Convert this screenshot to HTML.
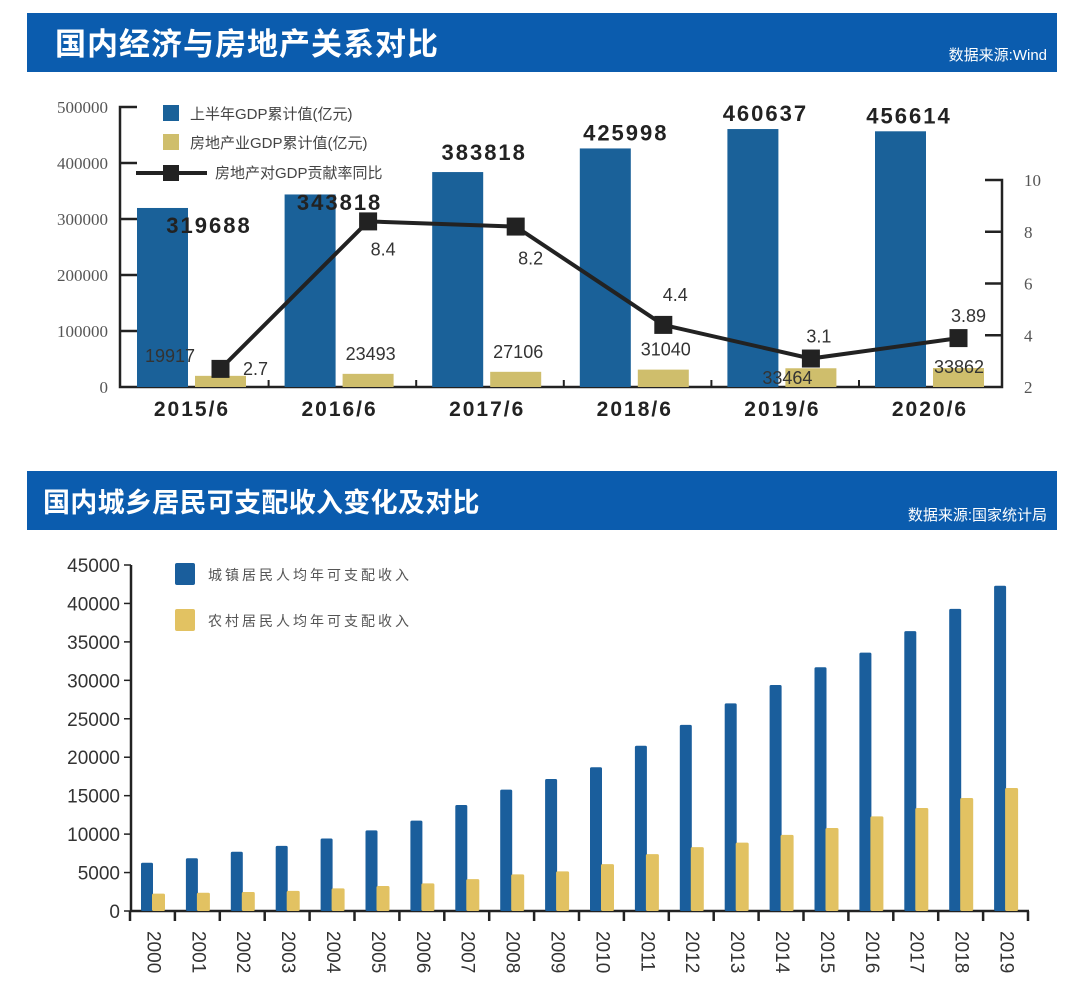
<!DOCTYPE html>
<html><head><meta charset="utf-8"><style>
body{margin:0;background:#fff;width:1080px;height:994px;overflow:hidden}
svg{display:block}
text{font-family:"Liberation Sans","Noto Sans CJK SC",sans-serif}
.serif{font-family:"Liberation Serif","Noto Serif CJK SC",serif}
</style></head><body>
<svg id="chart" width="1080" height="994" viewBox="0 0 1080 994" xmlns="http://www.w3.org/2000/svg">
<g>
<rect x="27" y="13" width="1030" height="59" fill="#0b5cae"/>
<text x="55" y="55" font-size="31" font-weight="bold" fill="#fff" letter-spacing="1">国内经济与房地产关系对比</text>
<text x="1047" y="60" font-size="15" fill="#fff" text-anchor="end">数据来源:Wind</text>
</g>
<g>
<rect x="27" y="471" width="1030" height="59" fill="#0b5cae"/>
<text x="43" y="512" font-size="27" font-weight="bold" fill="#fff" letter-spacing="0.3">国内城乡居民可支配收入变化及对比</text>
<text x="1047" y="520" font-size="15" fill="#fff" text-anchor="end">数据来源:国家统计局</text>
</g>
<g id="top"></g>
<g id="bot"></g>
</svg>
<script>
const gdpCats=["2015/6","2016/6","2017/6","2018/6","2019/6","2020/6"];
const gdpTotal=[319688,343818,383818,425998,460637,456614];
const gdpRealty=[19917,23493,27106,31040,33464,33862];
const gdpShare=[2.7,8.4,8.2,4.4,3.1,3.89];
const gdpShareLabels=["2.7","8.4","8.2","4.4","3.1","3.89"];
const leftTicks=[0,100000,200000,300000,400000,500000];
const rightTicks=[2,4,6,8,10];
const incYears=["2000","2001","2002","2003","2004","2005","2006","2007","2008","2009","2010","2011","2012","2013","2014","2015","2016","2017","2018","2019"];
const urban=[6280,6860,7703,8472,9422,10493,11759,13786,15781,17175,18700,21500,24200,27000,29400,31700,33600,36400,39300,42300];
const rural=[2253,2366,2476,2622,2936,3255,3587,4140,4761,5153,6100,7400,8300,8900,9900,10800,12300,13400,14700,16000];
const incTicks=[0,5000,10000,15000,20000,25000,30000,35000,40000,45000];

const NS="http://www.w3.org/2000/svg";
function mk(p,tag,a,txt){const e=document.createElementNS(NS,tag);for(const k in a)e.setAttribute(k,a[k]);if(txt!==undefined)e.textContent=txt;p.appendChild(e);return e;}

// ---- top chart
const T=document.getElementById('top');
const yL=v=>387-v/500000*280;
const yR=v=>387-(v-2)/8*207;
const band=147.6, x0=137;
const xB=i=>x0+i*band;
let e;
e=mk(T,'path',{d:"M137 107H120V387H1002V180H985",fill:"none",stroke:"#222","stroke-width":2.5});

leftTicks.forEach(v=>{
 if(v>0&&v<500000){e=mk(T,'line',{x1:120,x2:137,y1:yL(v),y2:yL(v),stroke:"#222","stroke-width":2.5});}
 e=mk(T,'text',{x:108,y:yL(v)+6,"font-size":17,fill:"#555","text-anchor":"end",class:"serif"},String(v));
 
});
rightTicks.forEach(v=>{
 if(v>2&&v<10){e=mk(T,'line',{x1:985,x2:1002,y1:yR(v),y2:yR(v),stroke:"#222","stroke-width":2.5});}
 e=mk(T,'text',{x:1024,y:yR(v)+6,"font-size":17,fill:"#555","text-anchor":"start",class:"serif"},String(v));
 
});
gdpCats.forEach((c,i)=>{
 if(i>0){e=mk(T,'line',{x1:xB(i)-16,x2:xB(i)-16,y1:380,y2:387,stroke:"#222","stroke-width":2});}
 e=mk(T,'rect',{x:xB(i),y:yL(gdpTotal[i]),width:51,height:387-yL(gdpTotal[i]),fill:"#1a6199"});
 
 e=mk(T,'rect',{x:xB(i)+58,y:yL(gdpRealty[i]),width:51,height:387-yL(gdpRealty[i]),fill:"#cfbe6c"});
 
 e=mk(T,'text',{x:xB(i)+55,y:416,"font-size":21,"font-weight":"bold",fill:"#222","text-anchor":"middle","letter-spacing":"2"},c);
 
});
const bigOff=[72,55,52,46,38,34];
gdpCats.forEach((c,i)=>{
 const top=yL(gdpTotal[i]);
 let lx=xB(i)+bigOff[i], ly=(i==0?233:(i==1?210:top-12));
 if(i>=3) ly=top-8;
 e=mk(T,'text',{x:lx,y:ly,"font-size":22,"font-weight":"bold",fill:"#222","text-anchor":"middle","letter-spacing":"2"},String(gdpTotal[i]));
 
 e=mk(T,'text',{x:xB(i)+58+(i==0?-25:(i==5?26:(i==4?2:28))),y:(i==4?384:(i==5?373:yL(gdpRealty[i])-14)),"font-size":18,fill:"#333","text-anchor":"middle"},String(gdpRealty[i]));
 
});
const lx=i=>xB(i)+83.5;
e=mk(T,'polyline',{points:gdpShare.map((v,i)=>lx(i)+","+yR(v)).join(" "),fill:"none",stroke:"#222","stroke-width":4});

const lblOff=[[35,0],[15,28],[15,32],[12,-30],[8,-22],[10,-22]];
gdpShare.forEach((v,i)=>{
 e=mk(T,'rect',{x:lx(i)-9,y:yR(v)-9,width:18,height:18,fill:"#222"});
 
 e=mk(T,'text',{x:lx(i)+lblOff[i][0],y:yR(v)+lblOff[i][1]+6,"font-size":18,fill:"#333","text-anchor":"middle"},gdpShareLabels[i]);
 
});
e=mk(T,'rect',{x:163,y:105,width:16,height:16,fill:"#1a6199"});
e=mk(T,'text',{x:190,y:119,"font-size":15,fill:"#444"},"上半年GDP累计值(亿元)");
e=mk(T,'rect',{x:163,y:134,width:16,height:16,fill:"#cfbe6c"});
e=mk(T,'text',{x:190,y:148,"font-size":15,fill:"#444"},"房地产业GDP累计值(亿元)");
e=mk(T,'line',{x1:136,x2:207,y1:173,y2:173,stroke:"#222","stroke-width":4});
e=mk(T,'rect',{x:163,y:165,width:16,height:16,fill:"#222"});
e=mk(T,'text',{x:215,y:178,"font-size":15,fill:"#444"},"房地产对GDP贡献率同比");

// ---- bottom chart
const B=document.getElementById('bot');
const yI=v=>911-v/45000*346;
const gw=44.9, gx=130;
e=mk(B,'path',{d:"M131 565V911H1029",fill:"none",stroke:"#222","stroke-width":2.5});

incTicks.forEach(v=>{
 e=mk(B,'line',{x1:124,x2:131,y1:yI(v),y2:yI(v),stroke:"#222","stroke-width":1.5});
 e=mk(B,'text',{x:120,y:yI(v)+7,"font-size":19,fill:"#333","text-anchor":"end"},String(v));
 
});
for(let i=0;i<=incYears.length;i++){
 e=mk(B,'line',{x1:gx+i*gw,x2:gx+i*gw,y1:911,y2:921,stroke:"#222","stroke-width":2.5});
 
}
incYears.forEach((yr,i)=>{
 const g=gx+i*gw;
 e=mk(B,'rect',{x:g+11,y:yI(urban[i]),width:12,height:911-yI(urban[i]),fill:"#1a5e9c",rx:1.5});
 
 e=mk(B,'rect',{x:g+22,y:yI(rural[i]),width:13,height:911-yI(rural[i]),fill:"#e2c262",rx:1.5});
 
 const cx=g+gw/2;
 e=mk(B,'text',{x:cx,y:931,"font-size":19,fill:"#333",transform:`rotate(90 ${cx} 931)`,"dominant-baseline":"middle"},yr);
 
});
e=mk(B,'rect',{x:175,y:563,width:20,height:22,fill:"#1a5e9c",rx:2});
e=mk(B,'text',{x:208,y:580,"font-size":14,fill:"#555","letter-spacing":"3"},"城镇居民人均年可支配收入");
e=mk(B,'rect',{x:175,y:609,width:20,height:22,fill:"#e2c262",rx:2});
e=mk(B,'text',{x:208,y:626,"font-size":14,fill:"#555","letter-spacing":"3"},"农村居民人均年可支配收入");
</script>
</body></html>
